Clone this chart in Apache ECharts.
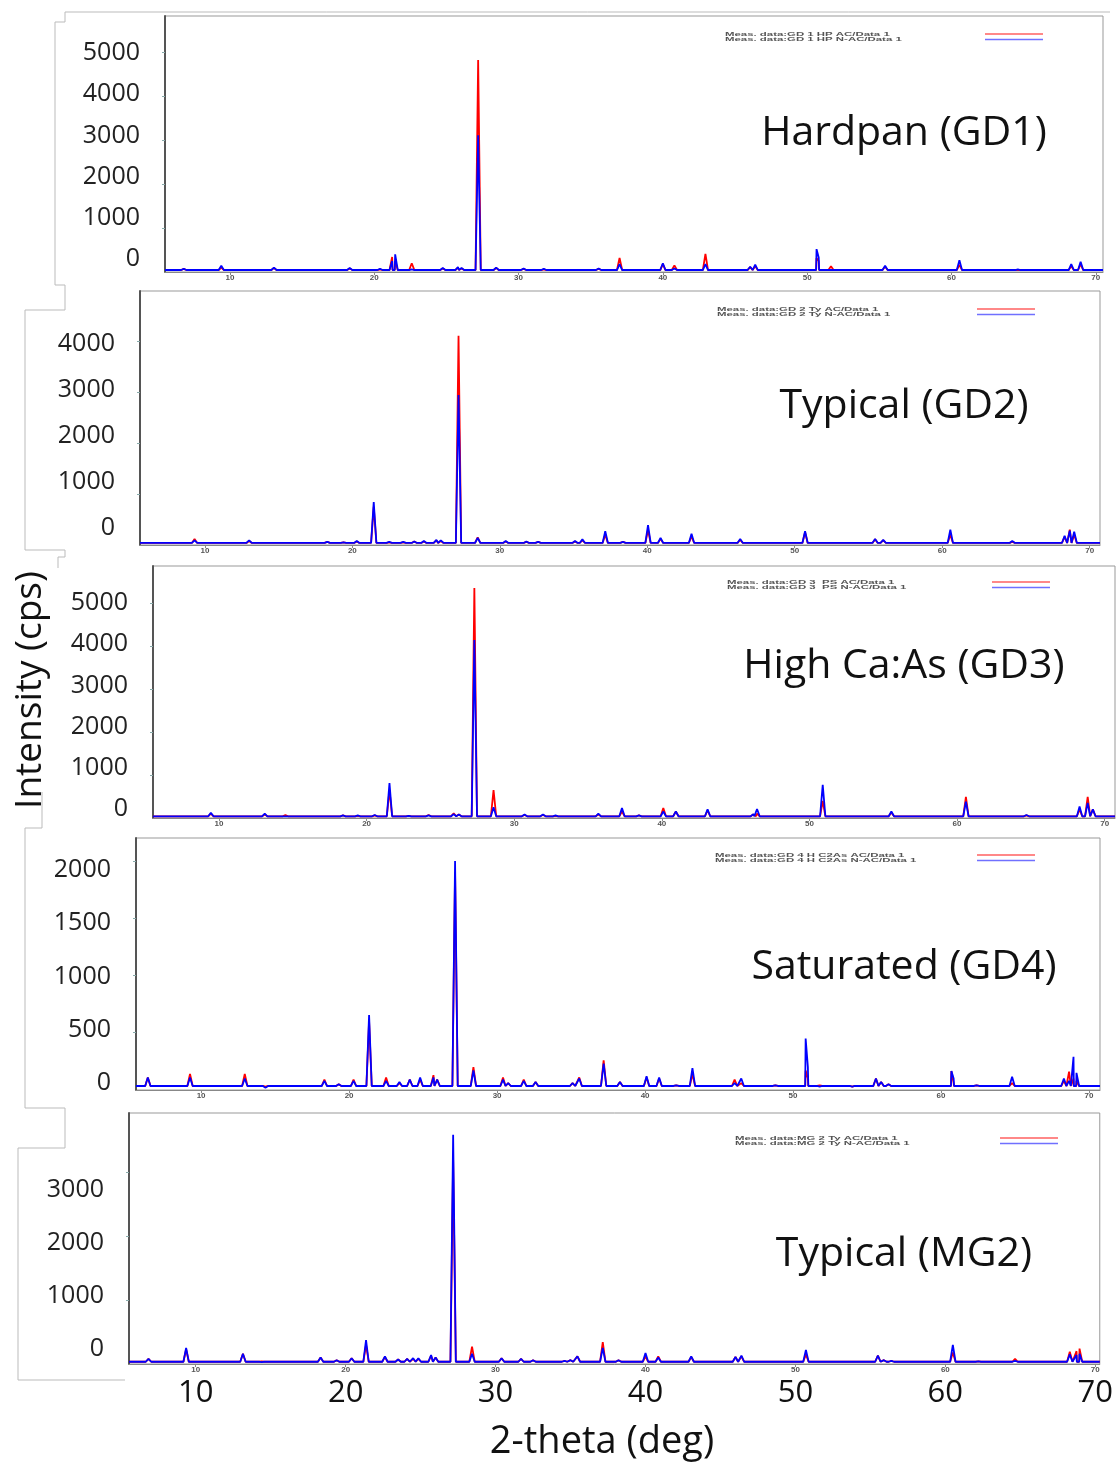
<!DOCTYPE html>
<html>
<head>
<meta charset="utf-8">
<title>XRD patterns</title>
<script src="https://cdn.jsdelivr.net/npm/echarts@6/dist/echarts.min.js"></script>
<style>
html, body { margin: 0; padding: 0; background: #fff; }
#main { width: 1116px; height: 1464px; }
</style>
</head>
<body>
<div id="main"></div>
<script>
// peak positions (2-theta, as read against the plot's own tick labels) and heights (cps)
// red = AC, blue = N-AC
var gd1Pos = [6.8, 9.4, 13.05, 18.3, 20.4, 21.24, 21.45, 22.6, 24.75, 25.8, 26.05, 27.2, 28.45, 30.35, 31.75, 35.55, 37.0, 40.0, 40.8, 42.95, 46.05, 46.4, 50.65, 50.8, 51.65, 55.4, 60.55, 64.6, 68.3, 68.95];
var gd1Ac  = [70, 100, 90, 80, 60, 340, 250, 200, 80, 100, 80, 4820, 90, 70, 60, 70, 320, 180, 150, 410, 110, 130, 320, 250, 130, 120, 160, 50, 130, 180];
var gd1Nac = [70, 140, 100, 90, 70, 250, 400, 60, 90, 110, 90, 3110, 100, 80, 70, 80, 180, 200, 80, 180, 120, 170, 520, 330, 50, 140, 270, 60, 180, 230];

var gd2Pos = [9.3, 13.0, 18.3, 19.4, 20.3, 21.45, 22.5, 23.45, 24.2, 24.85, 25.7, 26.0, 27.2, 28.5, 30.4, 31.8, 32.6, 35.1, 35.6, 37.15, 38.35, 40.05, 40.9, 43.0, 46.3, 50.7, 55.45, 56.0, 60.55, 64.75, 68.3, 68.65, 68.95];
var gd2Ac  = [120, 80, 60, 50, 70, 750, 50, 50, 70, 70, 90, 80, 4100, 150, 70, 60, 60, 70, 90, 200, 60, 300, 120, 170, 100, 250, 110, 90, 200, 60, 160, 300, 200];
var gd2Nac = [90, 90, 60, 50, 80, 840, 60, 60, 70, 80, 100, 90, 2940, 140, 80, 70, 60, 80, 110, 270, 60, 390, 140, 220, 120, 270, 120, 100, 300, 80, 180, 280, 260];

var gd3Pos = [9.45, 13.1, 14.5, 18.4, 19.4, 20.55, 21.55, 22.85, 24.2, 25.9, 26.25, 27.3, 28.6, 30.7, 31.95, 32.8, 35.7, 37.3, 38.45, 40.1, 40.95, 43.1, 46.2, 46.45, 50.9, 55.55, 60.6, 64.7, 68.3, 68.85, 69.2];
var gd3Ac  = [100, 80, 70, 60, 50, 60, 650, 50, 70, 110, 80, 5350, 650, 70, 70, 50, 80, 150, 60, 230, 150, 180, 80, 100, 400, 130, 490, 60, 200, 490, 200];
var gd3Nac = [120, 100, 40, 60, 60, 70, 810, 50, 60, 90, 80, 4140, 250, 80, 80, 60, 100, 230, 60, 150, 150, 200, 90, 210, 770, 150, 380, 70, 270, 350, 200];

var gd4Pos = [6.4, 9.25, 12.95, 14.35, 18.33, 19.3, 20.3, 21.35, 22.5, 23.4, 24.1, 24.8, 25.7, 25.95, 27.16, 28.4, 30.4, 30.75, 31.8, 32.6, 35.1, 35.55, 37.2, 38.3, 40.1, 40.95, 42.1, 43.2, 46.05, 46.5, 48.8, 50.85, 51.0, 51.8, 54.0, 55.6, 55.95, 56.45, 60.7, 60.85, 62.4, 64.8, 68.3, 68.65, 68.95, 69.15];
var gd4Ac  = [110, 140, 140, 30, 90, 50, 90, 600, 110, 60, 90, 90, 130, 90, 1900, 200, 110, 60, 90, 70, 60, 110, 260, 70, 110, 100, 40, 140, 90, 60, 40, 170, 100, 40, 30, 100, 70, 50, 165, 60, 40, 60, 80, 160, 100, 80];
var gd4Nac = [110, 110, 100, 20, 80, 50, 80, 655, 80, 70, 90, 110, 110, 90, 2000, 170, 90, 60, 80, 70, 60, 100, 230, 70, 120, 110, 40, 190, 60, 100, 40, 450, 200, 30, 30, 100, 70, 50, 165, 100, 40, 115, 100, 80, 290, 150];

var mg2Pos = [6.85, 9.36, 13.15, 14.4, 18.33, 19.4, 20.4, 21.36, 22.62, 23.5, 24.1, 24.5, 24.85, 25.7, 26.0, 27.17, 28.43, 30.4, 31.7, 32.5, 34.6, 35.0, 35.46, 37.15, 38.2, 40.0, 40.85, 43.05, 46.0, 46.4, 50.7, 55.5, 55.9, 56.4, 60.5, 62.2, 64.65, 68.3, 68.75, 68.95];
var mg2Ac  = [80, 230, 160, 40, 100, 60, 90, 300, 110, 70, 80, 80, 80, 130, 100, 3190, 270, 90, 80, 60, 50, 60, 120, 340, 60, 120, 120, 110, 110, 120, 150, 130, 60, 50, 180, 40, 80, 190, 200, 240];
var mg2Nac = [80, 250, 160, 30, 100, 60, 90, 375, 120, 70, 80, 90, 90, 140, 100, 3580, 160, 90, 80, 60, 50, 60, 120, 250, 60, 170, 100, 120, 110, 130, 220, 130, 60, 50, 300, 40, 50, 150, 140, 160];

var baselines = [45, 40, 40, 35, 35];

// tick labels
var xTicks = [10, 20, 30, 40, 50, 60, 70];
var gd1Ticks = [0, 1000, 2000, 3000, 4000, 5000];
var gd2Ticks = [0, 1000, 2000, 3000, 4000];
var gd3Ticks = [0, 1000, 2000, 3000, 4000, 5000];
var gd4Ticks = [0, 500, 1000, 1500, 2000];
var mg2Ticks = [0, 1000, 2000, 3000];

var titles = ['Hardpan (GD1)', 'Typical (GD2)', 'High Ca:As (GD3)', 'Saturated (GD4)', 'Typical (MG2)'];
var legendNames = [
  ['Meas. data:GD 1 HP AC/Data 1', 'Meas. data:GD 1 HP N-AC/Data 1'],
  ['Meas. data:GD 2 Ty AC/Data 1', 'Meas. data:GD 2 Ty N-AC/Data 1'],
  ['Meas. data:GD 3  PS AC/Data 1', 'Meas. data:GD 3  PS N-AC/Data 1'],
  ['Meas. data:GD 4 H C2As AC/Data 1', 'Meas. data:GD 4 H C2As N-AC/Data 1'],
  ['Meas. data:MG 2 Ty AC/Data 1', 'Meas. data:MG 2 Ty N-AC/Data 1']
];

var FONT = 'Open Sans';
var HW = 0.18; // half width of a peak foot (deg)

// panel layout
var panels = [
  { pos: gd1Pos, ac: gd1Ac, nac: gd1Nac, ticks: gd1Ticks, box: [165, 16, 938, 256], xr: [5.5, 70.5], ymax: 5818, lab: [-315, 5898], lg: [725, 34, 985], tt: [904, 133] },
  { pos: gd2Pos, ac: gd2Ac, nac: gd2Nac, ticks: gd2Ticks, box: [140, 291, 960, 254], xr: [5.6, 70.7], ymax: 4980, lab: [-370, 5152], lg: [717, 309, 977], tt: [904, 406] },
  { pos: gd3Pos, ac: gd3Ac, nac: gd3Nac, ticks: gd3Ticks, box: [153, 566, 962, 252], xr: [5.53, 70.7], ymax: 5860, lab: [-218, 5898], lg: [727, 582, 992], tt: [904, 666] },
  { pos: gd4Pos, ac: gd4Ac, nac: gd4Nac, ticks: gd4Ticks, box: [136, 838, 964, 252], xr: [5.6, 70.74], ymax: 2200, lab: [-66, 2300], lg: [715, 855, 977], tt: [904, 967] },
  { pos: mg2Pos, ac: mg2Ac, nac: mg2Nac, ticks: mg2Ticks, box: [129, 1113, 975, 251], xr: [5.55, 70.3], ymax: 3920, lab: [-283, 4453], lg: [735, 1138, 1000], tt: [904, 1254] }
];

function profile(pos, h, base, xr) {
  var pts = [[xr[0], base], [xr[1], base]];
  for (var i = 0; i < pos.length; i++) {
    pts.push([pos[i] - HW, base], [pos[i], h[i]], [pos[i] + HW, base]);
  }
  pts.sort(function (a, b) { return a[0] - b[0]; });
  return pts;
}

var grid = [], xAxis = [], yAxis = [], series = [], title = [], graphic = [];

panels.forEach(function (p, i) {
  grid.push({
    left: p.box[0], top: p.box[1], width: p.box[2], height: p.box[3],
    show: true, borderColor: '#999', borderWidth: 1
  });
  xAxis.push({
    type: 'value', gridIndex: i, min: p.xr[0], max: p.xr[1],
    axisLine: { show: true, onZero: false, lineStyle: { color: '#888', width: 1 } },
    axisTick: { show: true, length: 3, customValues: xTicks, lineStyle: { color: '#888' } },
    axisLabel: { customValues: xTicks, fontSize: 8, margin: 2, color: '#555', fontWeight: 'bold', fontFamily: 'Liberation Sans' },
    splitLine: { show: false }
  });
  // data axis
  yAxis.push({
    type: 'value', gridIndex: i, position: 'left', min: 0, max: p.ymax,
    axisLine: { show: true, lineStyle: { color: '#555', width: 2 } },
    axisTick: { show: true, length: 3, customValues: p.ticks.slice(1), lineStyle: { color: '#8aa' } },
    axisLabel: { show: false },
    splitLine: { show: false }
  });
  // label axis (the big overlaid numbers)
  yAxis.push({
    type: 'value', gridIndex: i, position: 'left', min: p.lab[0], max: p.lab[1],
    axisLine: { show: false }, axisTick: { show: false }, splitLine: { show: false },
    axisLabel: {
      customValues: p.ticks, margin: 25, fontSize: 25, color: '#222', fontFamily: FONT,
      formatter: function (v) { return String(v); }
    }
  });
  var base = baselines[i];
  series.push({
    name: legendNames[i][0], type: 'line', xAxisIndex: i, yAxisIndex: 2 * i,
    data: profile(p.pos, p.ac, base, p.xr),
    showSymbol: false, lineStyle: { color: '#ff0000', width: 1.8 }, itemStyle: { color: '#ff0000' }
  });
  series.push({
    name: legendNames[i][1], type: 'line', xAxisIndex: i, yAxisIndex: 2 * i,
    data: profile(p.pos, p.nac, base, p.xr),
    showSymbol: false, lineStyle: { color: '#0000ff', width: 1.8 }, itemStyle: { color: '#0000ff' }
  });
  title.push({
    text: titles[i], left: p.tt[0], top: p.tt[1], padding: 0, textAlign: 'center', textVerticalAlign: 'middle',
    textStyle: { fontSize: 41, fontWeight: 'normal', color: '#111', fontFamily: FONT }
  });
  // small legend block
  for (var k = 0; k < 2; k++) {
    graphic.push({
      type: 'text', x: p.lg[0], y: p.lg[1] + k * 5.5, scaleX: 1.9,
      style: { text: legendNames[i][k], fontSize: 6, fontWeight: 'bold', fontFamily: 'Liberation Sans', fill: '#555', align: 'left', verticalAlign: 'middle' }
    });
    graphic.push({
      type: 'line', shape: { x1: p.lg[2], y1: p.lg[1] + k * 5.5, x2: p.lg[2] + 58, y2: p.lg[1] + k * 5.5 },
      style: { stroke: k === 0 ? '#ff6060' : '#7070ff', lineWidth: 1.5 }
    });
  }
});

// big bottom x labels
xAxis.push({
  type: 'value', gridIndex: 4, position: 'bottom', min: panels[4].xr[0], max: panels[4].xr[1],
  axisLine: { show: false }, axisTick: { show: false }, splitLine: { show: false },
  axisLabel: { customValues: xTicks, fontSize: 31, margin: 14, color: '#111', fontFamily: FONT }
});

graphic.push({
  type: 'text', x: 30, y: 690, rotation: Math.PI / 2,
  style: { text: 'Intensity (cps)', fontSize: 37, fontFamily: FONT, fill: '#111', align: 'center', verticalAlign: 'middle' }
});
graphic.push({
  type: 'text', x: 602, y: 1442,
  style: { text: '2-theta (deg)', fontSize: 38, fontFamily: FONT, fill: '#111', align: 'center', verticalAlign: 'middle' }
});
// stepped outline left of the panels
graphic.push({
  type: 'polyline', silent: true,
  shape: { points: [[1110, 12], [65, 12], [65, 22], [55, 22], [55, 285], [65, 285], [65, 310], [25, 310], [25, 550], [65, 550], [65, 557], [58, 557], [58, 568]] },
  style: { stroke: '#bbb', fill: null, lineWidth: 1 }
});
graphic.push({
  type: 'polyline', silent: true,
  shape: { points: [[42, 792], [42, 828], [25, 828], [25, 1108], [65, 1108], [65, 1148], [18, 1148], [18, 1380], [125, 1380]] },
  style: { stroke: '#bbb', fill: null, lineWidth: 1 }
});

var myChart = echarts.init(document.getElementById('main'));
myChart.setOption({
  animation: false,
  backgroundColor: '#fff',
  title: title,
  grid: grid,
  xAxis: xAxis,
  yAxis: yAxis,
  series: series,
  graphic: graphic
});
</script>
</body>
</html>
